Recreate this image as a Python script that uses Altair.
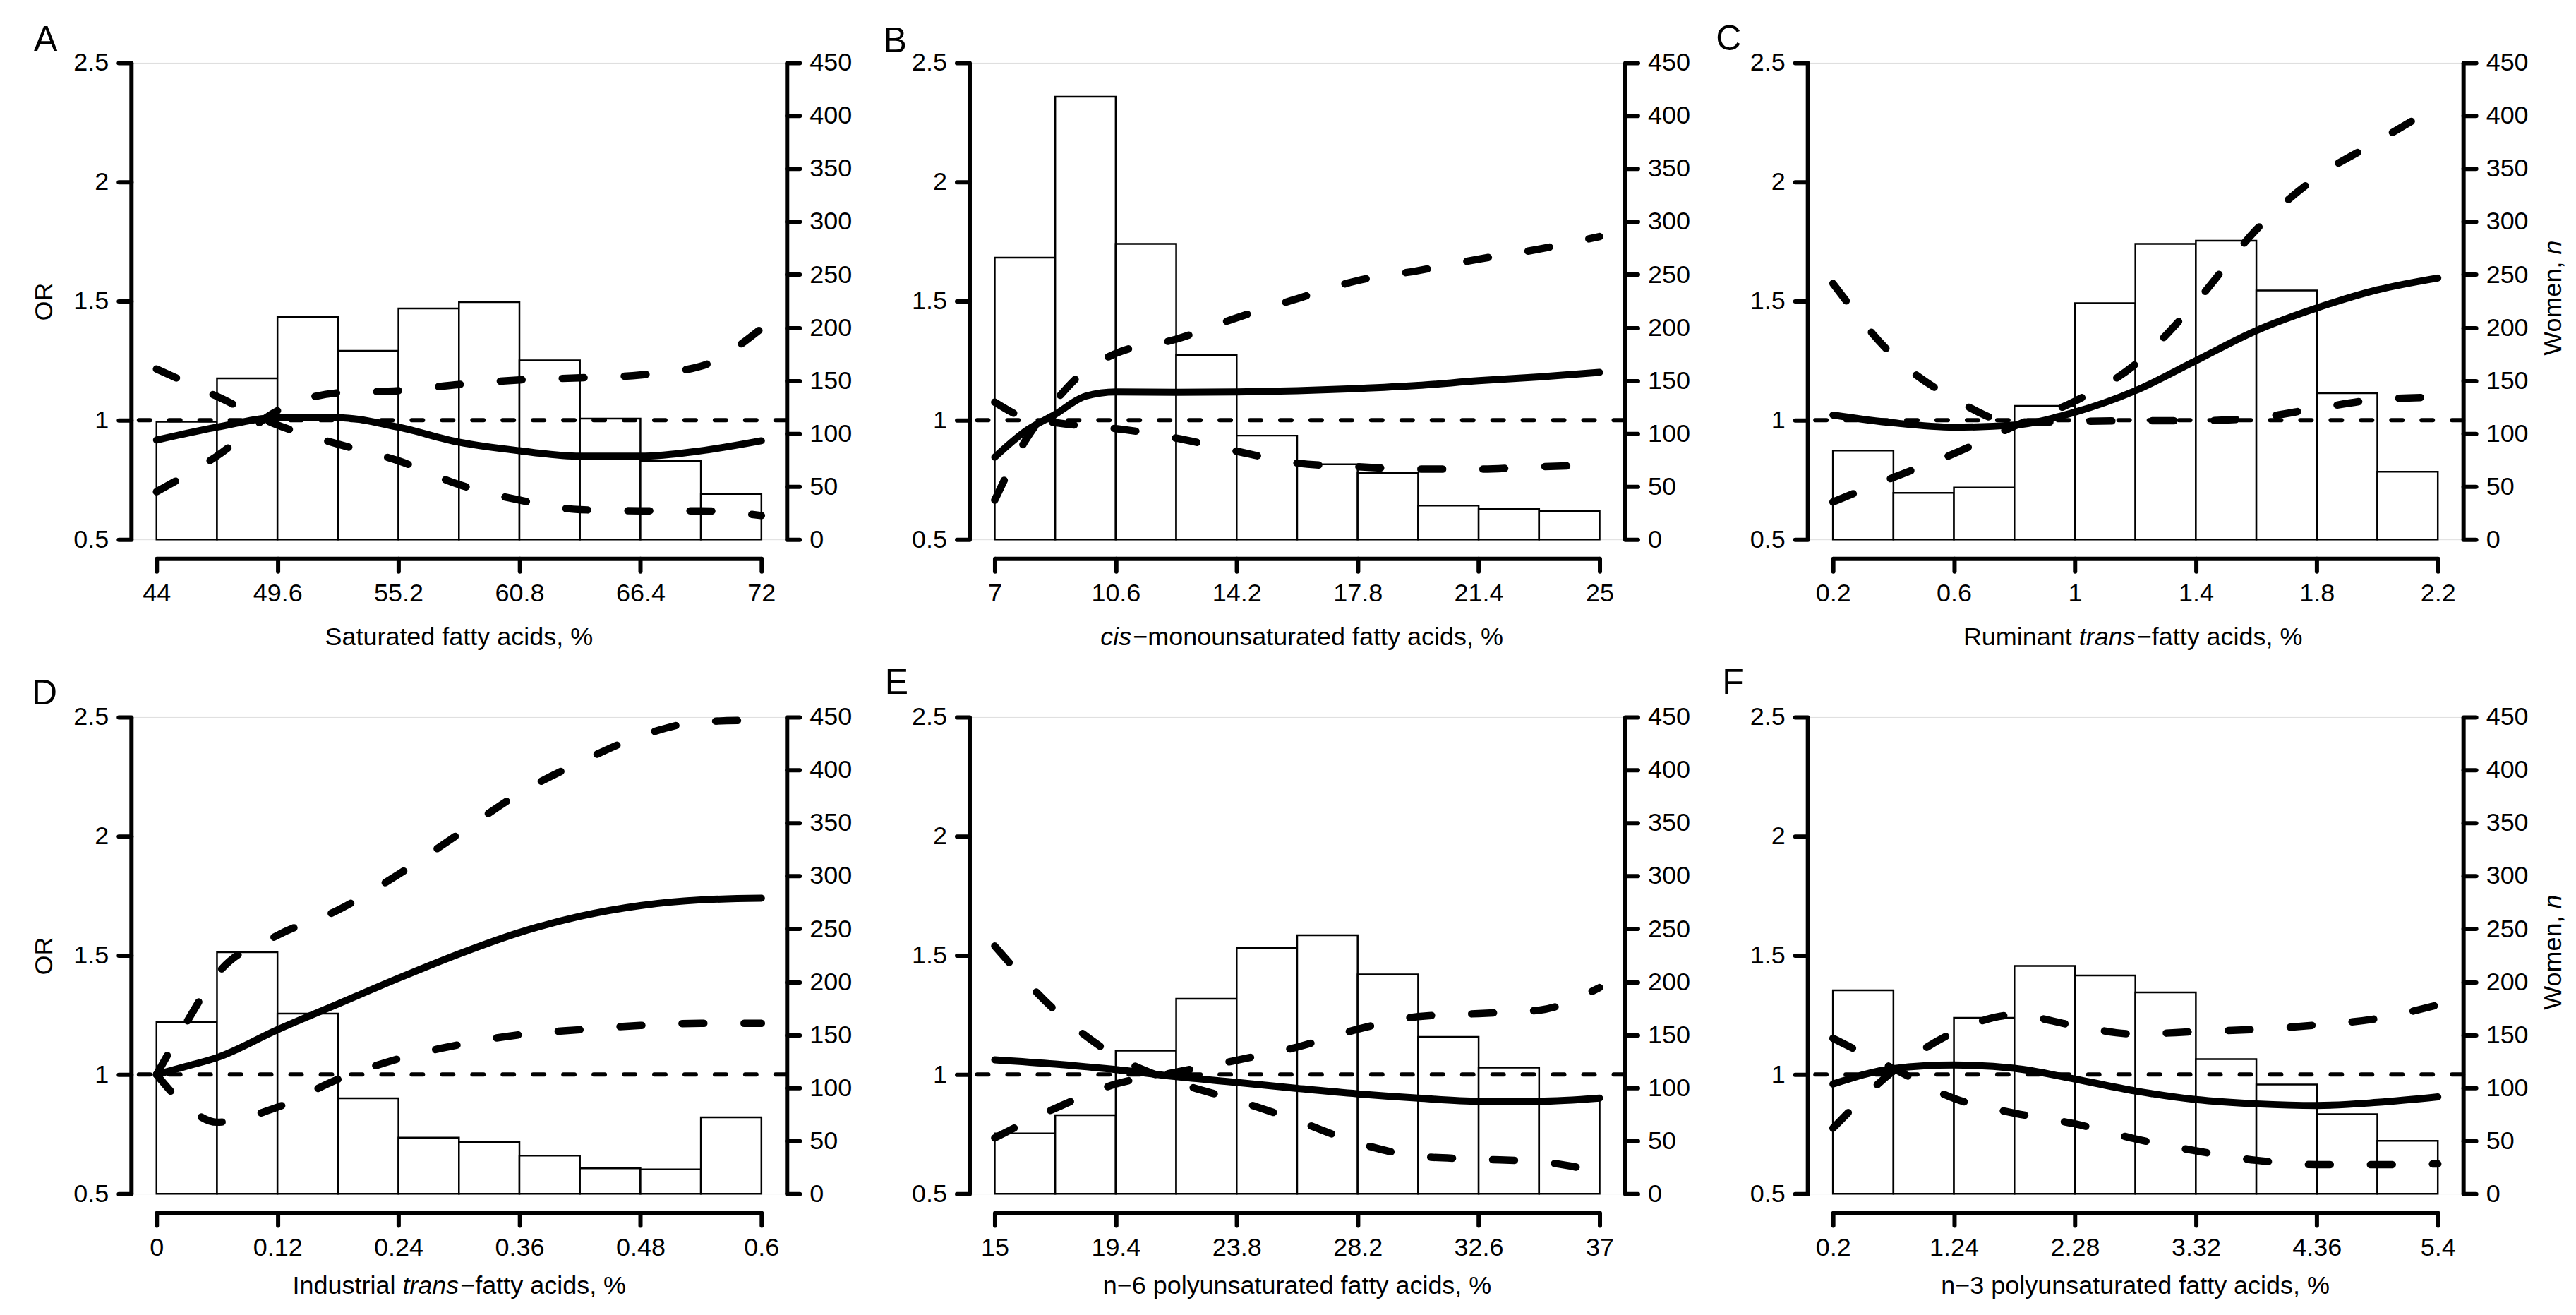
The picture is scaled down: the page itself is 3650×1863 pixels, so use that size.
import altair as alt
import pandas as pd

FONT = "Liberation Sans"

# ---------------- data ----------------
# A: saturated fatty acids
A_dom = [44, 72]
A_ticks = [44, 49.6, 55.2, 60.8, 66.4, 72]
A_counts = [111, 152, 210, 178, 218, 224, 169, 114, 74, 43]
A_x = [44, 46.8, 49.6, 52.4, 55.2, 58, 60.8, 63.6, 66.4, 69.2, 72]
A_or = [0.917, 0.971, 1.011, 1.011, 0.971, 0.908, 0.872, 0.849, 0.849, 0.872, 0.914]
A_hi = [0.70, 0.85, 1.04, 1.115, 1.124, 1.15, 1.169, 1.178, 1.19, 1.227, 1.385]
A_lo = [1.215, 1.10, 0.98, 0.90, 0.83, 0.73, 0.665, 0.625, 0.62, 0.62, 0.60]

# B: cis-monounsaturated fatty acids
B_dom = [7, 25]
B_ticks = [7, 10.6, 14.2, 17.8, 21.4, 25]
B_counts = [266, 418, 279, 174, 98, 71, 63, 32, 29, 27]
B_x = [7, 7.9, 8.8, 9.7, 10.6, 12.4, 14.2, 16, 17.8, 19.6, 21.4, 23.2, 25]
B_or = [0.845, 0.953, 1.025, 1.101, 1.119, 1.117, 1.119, 1.124, 1.133, 1.146, 1.166, 1.182, 1.201]
B_hi = [0.665, 0.912, 1.08, 1.21, 1.28, 1.34, 1.43, 1.51, 1.586, 1.628, 1.676, 1.718, 1.771]
B_lo = [1.076, 1.01, 0.99, 0.975, 0.965, 0.925, 0.87, 0.82, 0.805, 0.795, 0.795, 0.805, 0.812]

# C: ruminant trans-fatty acids
C_dom = [0.2, 2.2]
C_ticks = [0.2, 0.6, 1, 1.4, 1.8, 2.2]
C_counts = [84, 44, 49, 126, 223, 279, 282, 235, 138, 64]
C_x = [0.2, 0.4, 0.6, 0.8, 1.0, 1.2, 1.4, 1.6, 1.8, 2.0, 2.2]
C_or = [1.022, 0.989, 0.971, 0.98, 1.034, 1.124, 1.25, 1.376, 1.471, 1.547, 1.597]
C_hi = [0.657, 0.76, 0.86, 0.975, 1.08, 1.235, 1.495, 1.80, 2.02, 2.17, 2.32]
C_lo = [1.574, 1.27, 1.09, 0.99, 0.995, 0.998, 0.998, 1.01, 1.05, 1.087, 1.097]

# D: industrial trans-fatty acids
D_dom = [0, 0.6]
D_ticks = [0, 0.12, 0.24, 0.36, 0.48, 0.6]
D_counts = [162, 228, 170, 90, 53, 49, 36, 24, 23, 72]
D_x = [0, 0.03, 0.06, 0.12, 0.18, 0.24, 0.30, 0.36, 0.42, 0.48, 0.54, 0.60]
D_or = [1.0, 1.035, 1.071, 1.188, 1.296, 1.404, 1.506, 1.596, 1.664, 1.709, 1.733, 1.74]
D_hi = [1.0, 1.22, 1.42, 1.584, 1.69, 1.84, 2.01, 2.18, 2.31, 2.42, 2.48, 2.487]
D_lo = [1.0, 0.865, 0.80, 0.863, 0.98, 1.066, 1.125, 1.167, 1.188, 1.206, 1.215, 1.215]

# E: n-6 polyunsaturated fatty acids
E_dom = [15, 37]
E_ticks = [15, 19.4, 23.8, 28.2, 32.6, 37]
E_counts = [57, 74, 135, 184, 232, 244, 207, 148, 119, 88]
E_x = [15, 17.2, 19.4, 21.6, 23.8, 26, 28.2, 30.4, 32.6, 34.8, 37]
E_or = [1.062, 1.044, 1.021, 0.991, 0.967, 0.942, 0.919, 0.901, 0.888, 0.888, 0.901]
E_hi = [0.734, 0.858, 0.96, 1.01, 1.06, 1.115, 1.19, 1.243, 1.256, 1.27, 1.365]
E_lo = [1.539, 1.269, 1.077, 0.968, 0.892, 0.806, 0.713, 0.657, 0.645, 0.634, 0.592]

# F: n-3 polyunsaturated fatty acids
F_dom = [0.2, 5.4]
F_ticks = [0.2, 1.24, 2.28, 3.32, 4.36, 5.4]
F_counts = [192, 120, 166, 215, 206, 190, 127, 103, 75, 50]
F_x = [0.2, 0.72, 1.24, 1.76, 2.28, 2.8, 3.32, 3.84, 4.36, 4.88, 5.4]
F_or = [0.96, 1.025, 1.04, 1.026, 0.981, 0.931, 0.895, 0.877, 0.870, 0.883, 0.906]
F_hi = [0.775, 1.015, 1.177, 1.25, 1.205, 1.17, 1.18, 1.19, 1.208, 1.235, 1.292]
F_lo = [1.152, 1.025, 0.90, 0.838, 0.793, 0.73, 0.68, 0.64, 0.622, 0.622, 0.625]

OR_TICKS = [0.5, 1, 1.5, 2, 2.5]
N_TICKS = [0, 50, 100, 150, 200, 250, 300, 350, 400, 450]

# ---------------- layout ----------------
W, H = 930, 676
XL, XR = 36, 894

AX = dict(domainColor="black", domainWidth=6, tickColor="black", tickWidth=6,
          tickSize=18, labelFont=FONT, labelFontSize=36, labelColor="black",
          labelPadding=14, grid=False, title=None, labelOverlap=False,
          labelFlush=False, format=".6~g", tickCap="round")


def txt(text, x, y, size=36, style="normal", align="center",
        baseline="alphabetic", angle=0):
    return alt.Chart(pd.DataFrame({"t": [text]})).mark_text(
        font=FONT, fontSize=size, fontStyle=style, align=align,
        baseline=baseline, angle=angle, color="black"
    ).encode(x=alt.value(x), y=alt.value(y), text="t:N")


def panel(letter, ldx, ldy, dom, ticks, counts, xs, orv, hiv, lov,
          xtitle, tdy, left_title=False, right_title=False):
    lo, hi = dom
    k = len(counts)
    step = (hi - lo) / k
    bars = pd.DataFrame({
        "x0": [lo + i * step for i in range(k)],
        "x1": [lo + (i + 1) * step for i in range(k)],
        "n": counts,
        "z": [0] * k,
    })
    xscale = alt.Scale(domain=[lo, hi], range=[XL, XR], nice=False, zero=False)
    yscale = alt.Scale(domain=[0.5, 2.5], nice=False, zero=False)
    nscale = alt.Scale(domain=[0, 450], nice=False)

    bar_layer = alt.Chart(bars).mark_rect(
        fill="white", stroke="black", strokeWidth=2.5
    ).encode(
        x=alt.X("x0:Q", scale=xscale, axis=alt.Axis(values=ticks, offset=27, **AX)),
        x2="x1:Q",
        y=alt.Y("n:Q", scale=nscale,
                axis=alt.Axis(orient="right", values=N_TICKS, **AX)),
        y2="z:Q",
    )

    solid = pd.DataFrame({"x": xs, "v": orv})
    ci = pd.DataFrame({"x": xs + xs, "v": hiv + lov,
                       "s": ["hi"] * len(xs) + ["lo"] * len(xs)})

    ref = alt.Chart(pd.DataFrame({"v": [1.0]})).mark_rule(
        color="black", strokeWidth=6, strokeDash=[16, 27], strokeCap="round"
    ).encode(y=alt.Y("v:Q", scale=yscale))

    ci_layer = alt.Chart(ci).mark_line(
        color="black", strokeWidth=10.5, strokeDash=[31, 57],
        strokeCap="round", interpolate="monotone"
    ).encode(
        x=alt.X("x:Q", scale=xscale),
        y=alt.Y("v:Q", scale=yscale),
        detail="s:N",
    )

    solid_layer = alt.Chart(solid).mark_line(
        color="black", strokeWidth=10, strokeCap="round", interpolate="monotone"
    ).encode(
        x=alt.X("x:Q", scale=xscale),
        y=alt.Y("v:Q", scale=yscale,
                axis=alt.Axis(orient="left", values=OR_TICKS, **AX)),
    )

    texts = [txt(letter, ldx, ldy, size=50, align="left")]
    for (t, x, align, style) in xtitle:
        texts.append(txt(t, x, H + tdy, align=align, style=style))
    if left_title:
        texts.append(txt("OR", -123, 339, angle=270, baseline="middle"))
    if right_title:
        p = 282
        texts.append(txt("Women,", W + 128, p, angle=270, baseline="middle", align="right"))
        texts.append(txt("n", W + 128, p - 10, angle=270, baseline="middle",
                         align="left", style="italic"))

    inner = alt.layer(ref, ci_layer, solid_layer, *texts)
    return alt.layer(bar_layer, inner).resolve_scale(y="independent").properties(
        width=W, height=H)


pA = panel("A", -138, -17, A_dom, A_ticks, A_counts, A_x, A_or, A_hi, A_lo,
           [("Saturated fatty acids, %", 465, "center", "normal")], 150,
           left_title=True)
pB = panel("B", -122, -15, B_dom, B_ticks, B_counts, B_x, B_or, B_hi, B_lo,
           [("cis", 230, "right", "italic"),
            ("\u2212monounsaturated fatty acids, %", 232, "left", "normal")], 150)
pC = panel("C", -130, -18, C_dom, C_ticks, C_counts, C_x, C_or, C_hi, C_lo,
           [("Ruminant", 375, "right", "normal"),
            ("trans", 385, "left", "italic"),
            ("\u2212fatty acids, %", 467, "left", "normal")], 150, right_title=True)
pD = panel("D", -141, -18, D_dom, D_ticks, D_counts, D_x, D_or, D_hi, D_lo,
           [("Industrial", 375, "right", "normal"),
            ("trans", 385, "left", "italic"),
            ("\u2212fatty acids, %", 467, "left", "normal")], 142, left_title=True)
pE = panel("E", -120, -33, E_dom, E_ticks, E_counts, E_x, E_or, E_hi, E_lo,
           [("n\u22126 polyunsaturated fatty acids, %", 465, "center", "normal")], 142)
pF = panel("F", -121, -33, F_dom, F_ticks, F_counts, F_x, F_or, F_hi, F_lo,
           [("n\u22123 polyunsaturated fatty acids, %", 465, "center", "normal")], 142,
           right_title=True)

chart = alt.concat(
    pA, pB, pC, pD, pE, pF, columns=3,
    spacing={"row": 252, "column": 259}, bounds="flush"
).properties(
    padding={"left": 36, "top": 21, "right": 5, "bottom": 5}
).configure_view(stroke=None).configure(background="white")

chart.save("out.html", embed_options={"renderer": "svg", "actions": False})
